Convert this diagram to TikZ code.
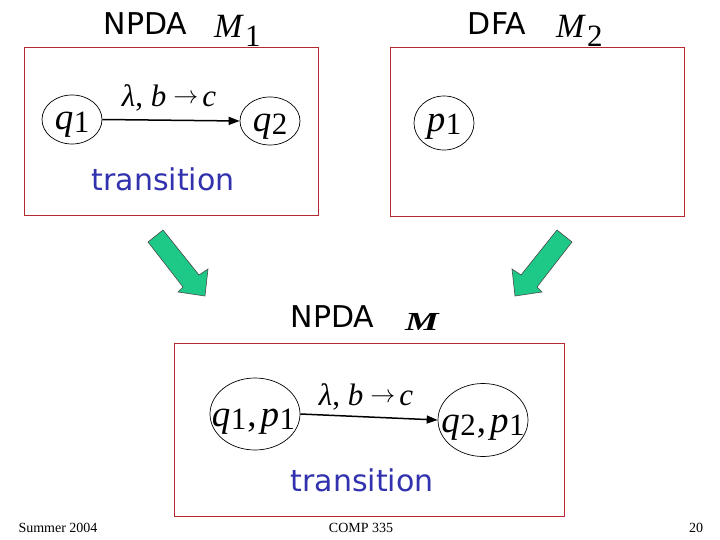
\documentclass[tikz,border=0pt]{standalone}
\usepackage{fontspec}
\setmainfont{Liberation Serif}
\newfontfamily\dv{DejaVu Sans}
\usetikzlibrary{arrows.meta,shapes.geometric}
\definecolor{boxred}{RGB}{180,40,50}
\definecolor{arrgreen}{RGB}{30,200,135}
\definecolor{tblue}{RGB}{50,50,175}
\newcommand\Ssub[2]{\textit{#1}\kern0.5pt\raisebox{-3pt}{\fontsize{31}{31}\selectfont #2}}
\newcommand\Msub[1]{\textit{M}\kern1pt\raisebox{-9pt}{\fontsize{31}{31}\selectfont #1}}
\newcommand\Stext[2]{\raisebox{-#1}[0pt][0pt]{\makebox[0pt]{#2}}}
\newcommand\Elab{\textit{λ}, \textit{b}\kern7pt\raisebox{3pt}{$\rightarrow$}\kern4pt\textit{c}}
\begin{document}
\begin{tikzpicture}[x=1pt,y=-1pt,
  frame/.style={draw=boxred,line width=1pt,rectangle,inner sep=0pt},
  state/.style={draw,ellipse,line width=0.7pt,inner sep=0pt,font=\fontsize{37}{37}\selectfont},
  title/.style={font=\dv\fontsize{30}{30}\selectfont,inner sep=0pt},
  mname/.style={font=\fontsize{34}{34}\selectfont,inner sep=0pt,anchor=base west},
  tlabel/.style={font=\dv\fontsize{30}{30}\selectfont,text=tblue,inner sep=0pt},
  elabel/.style={font=\fontsize{31}{31}\selectfont,inner sep=0pt,anchor=base},
  trans/.style={line width=1.5pt,-{Triangle[length=11pt,width=8pt]}},
  bigarrow/.style={fill=arrgreen,draw=black!70,line width=0.6pt,line join=miter},
  foot/.style={font=\fontsize{14}{14}\selectfont,inner sep=0pt}]
\useasboundingbox (0,0) rectangle (720,540);
\fill[white] (0,0) rectangle (720,540);

% frames
\node[frame,minimum width=294,minimum height=168] (b1) at (171,132) {};
\node[frame,minimum width=294,minimum height=169] (b2) at (537,132.5) {};
\node[frame,minimum width=390,minimum height=173] (b3) at (369,429.5) {};

% titles
\node[title] (t1) at (145.5,23.5) {NPDA};
\node[mname] (m1) at (214,38) {\Msub{1}};
\node[title] (t2) at (497,23.5) {DFA};
\node[mname] (m2) at (556,38) {\Msub{2}};
\node[title] (t3) at (332.5,316.5) {NPDA};
\node[inner sep=0pt,anchor=base west,font=\fontsize{26}{26}\selectfont] (m3) at (405,330) {\scalebox{1.45}[1]{\bfseries\itshape M}};

% box 1
\node[state,minimum width=60,minimum height=49] (q1) at (72,119.5) {\Stext{10.5pt}{\Ssub{q}{1}}};
\node[state,minimum width=60,minimum height=48] (q2) at (270,121) {\Stext{10.5pt}{\Ssub{q}{2}}};
\draw[trans] (q1.east) -- (q2.west);
\node[elabel] (l1) at (169,107) {\Elab};
\node[tlabel] (tr1) at (163,179) {transition};

% box 2
\node[state,minimum width=60,minimum height=54] (p1) at (444,123) {\Stext{9pt}{\Ssub{p}{1}}};

% green arrows
\draw[bigarrow] (163,230) -- (199,275) -- (208,269) -- (205,296) -- (178,292) -- (183,287) -- (148,242) -- cycle;
\draw[bigarrow] (557,230) -- (521,275) -- (512,269) -- (515,296) -- (542,292) -- (537,287) -- (572,242) -- cycle;

% box 3
\node[state,minimum width=90,minimum height=72] (r1) at (255,414) {\Stext{12pt}{\kern-3pt\Ssub{q}{1}\kern1pt,\kern4pt\Ssub{p}{1}}};
\node[state,minimum width=90,minimum height=73] (r2) at (483,420) {\Stext{12pt}{\Ssub{q}{2}\kern1pt,\kern4pt\Ssub{p}{1}}};
\draw[trans] (r1.east) -- (r2.west);
\node[elabel] (l3) at (366,405) {\Elab};
\node[tlabel] (tr3) at (362,480) {transition};

% footer
\node[foot] (f1) at (58,528) {Summer 2004};
\node[foot] (f2) at (361,528) {COMP 335};
\node[foot] (f3) at (696,528) {20};
\end{tikzpicture}
\end{document}
